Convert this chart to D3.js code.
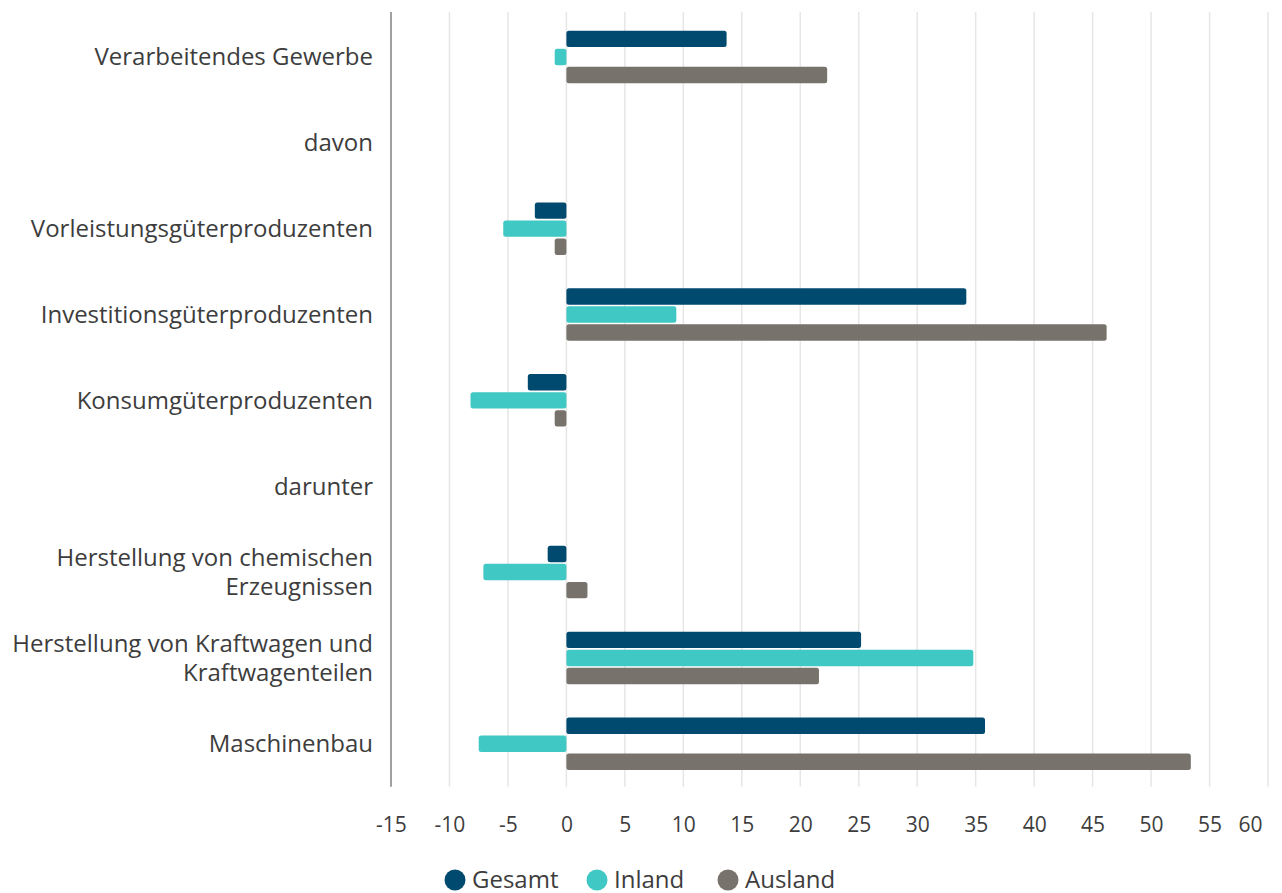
<!DOCTYPE html>
<html><head><meta charset="utf-8">
<script src="https://cdn.jsdelivr.net/npm/d3@7"></script>
<style>
html,body{margin:0;padding:0;background:#fff;}
svg{display:block;font-family:"Open Sans",sans-serif;}
</style></head>
<body><svg id="c" width="1282" height="893"></svg>
<script>
const categories = [
  ["Verarbeitendes Gewerbe"],
  ["davon"],
  ["Vorleistungsgüterproduzenten"],
  ["Investitionsgüterproduzenten"],
  ["Konsumgüterproduzenten"],
  ["darunter"],
  ["Herstellung von chemischen","Erzeugnissen"],
  ["Herstellung von Kraftwagen und","Kraftwagenteilen"],
  ["Maschinenbau"]
];
const seriesNames = ["Gesamt","Inland","Ausland"];
const seriesColors = ["#014a6f","#40c8c4","#77736c"];
const gesamt  = [13.7, null, -2.7, 34.2, -3.3, null, -1.6, 25.2, 35.8];
const inland  = [-1.0, null, -5.4,  9.4, -8.2, null, -7.1, 34.8, -7.5];
const ausland = [22.3, null, -1.0, 46.2, -1.0, null,  1.8, 21.6, 53.4];
const tickValues = [-15,-10,-5,0,5,10,15,20,25,30,35,40,45,50,55,60];

(function(){
const seriesValues = [gesamt, inland, ausland];
const svg = d3.select("#c");
const pLeft = 391, pRight = 1268, pTop = 14, pBottom = 786.7;
const x = d3.scaleLinear().domain([-15,60]).range([pLeft,pRight]);
const catKeys = categories.map((c,i)=>i);
const y = d3.scaleBand().domain(catKeys).range([pTop,pBottom]);
const inner = d3.scaleBand().domain(seriesNames).range([-26.25,26.25]).paddingInner(0.09);

// grid
svg.append("g").selectAll("line").data(tickValues.filter(v=>v!==-15)).join("line")
  .attr("x1",d=>x(d)).attr("x2",d=>x(d)).attr("y1",pTop-2).attr("y2",pBottom)
  .attr("stroke","#e6e6e6").attr("stroke-width",1.5);

// x axis labels
const xa = svg.append("g").attr("transform",`translate(0,${pBottom})`)
  .call(d3.axisBottom(x).tickValues(tickValues).tickFormat(d=>String(d)).tickSize(0).tickPadding(30));
xa.select(".domain").remove();
xa.selectAll("text").attr("font-size",21).attr("fill","#3d3d3d").attr("font-family","Open Sans");
xa.selectAll(".tick").filter(d=>d===60).select("text").attr("dx",-18);

// y axis line
svg.append("line").attr("x1",pLeft).attr("x2",pLeft).attr("y1",pTop-2).attr("y2",pBottom)
  .attr("stroke","#a0a0a0").attr("stroke-width",2);

// category labels
const lab = svg.append("g");
categories.forEach((lines,i)=>{
  const cy = y(i)+y.bandwidth()/2;
  const lh = 29;
  const t = lab.append("text").attr("text-anchor","end").attr("font-size",24).attr("fill","#3d3d3d");
  lines.forEach((ln,j)=>{
    t.append("tspan").attr("x",pLeft-18)
     .attr("y", cy + (j-(lines.length-1)/2)*lh)
     .attr("dy","0.35em").text(ln);
  });
});

// bars
seriesNames.forEach((s,si)=>{
  svg.append("g").selectAll("rect")
    .data(seriesValues[si].map((v,i)=>({v,i})).filter(d=>d.v!==null)).join("rect")
    .attr("x",d=>x(Math.min(0,d.v)))
    .attr("width",d=>Math.abs(x(d.v)-x(0)))
    .attr("y",d=>y(d.i)+y.bandwidth()/2+inner(s))
    .attr("height",inner.bandwidth())
    .attr("rx",2.5).attr("fill",seriesColors[si]);
});

// legend
const legX = [455, 597, 728];
const lg = svg.append("g");
seriesNames.forEach((s,si)=>{
  lg.append("circle").attr("cx",legX[si]).attr("cy",880).attr("r",10.5).attr("fill",seriesColors[si]);
  lg.append("text").attr("x",legX[si]+17).attr("y",880).attr("dy","0.35em")
    .attr("font-size",24).attr("fill","#3d3d3d").text(s);
});
})();
</script></body></html>
